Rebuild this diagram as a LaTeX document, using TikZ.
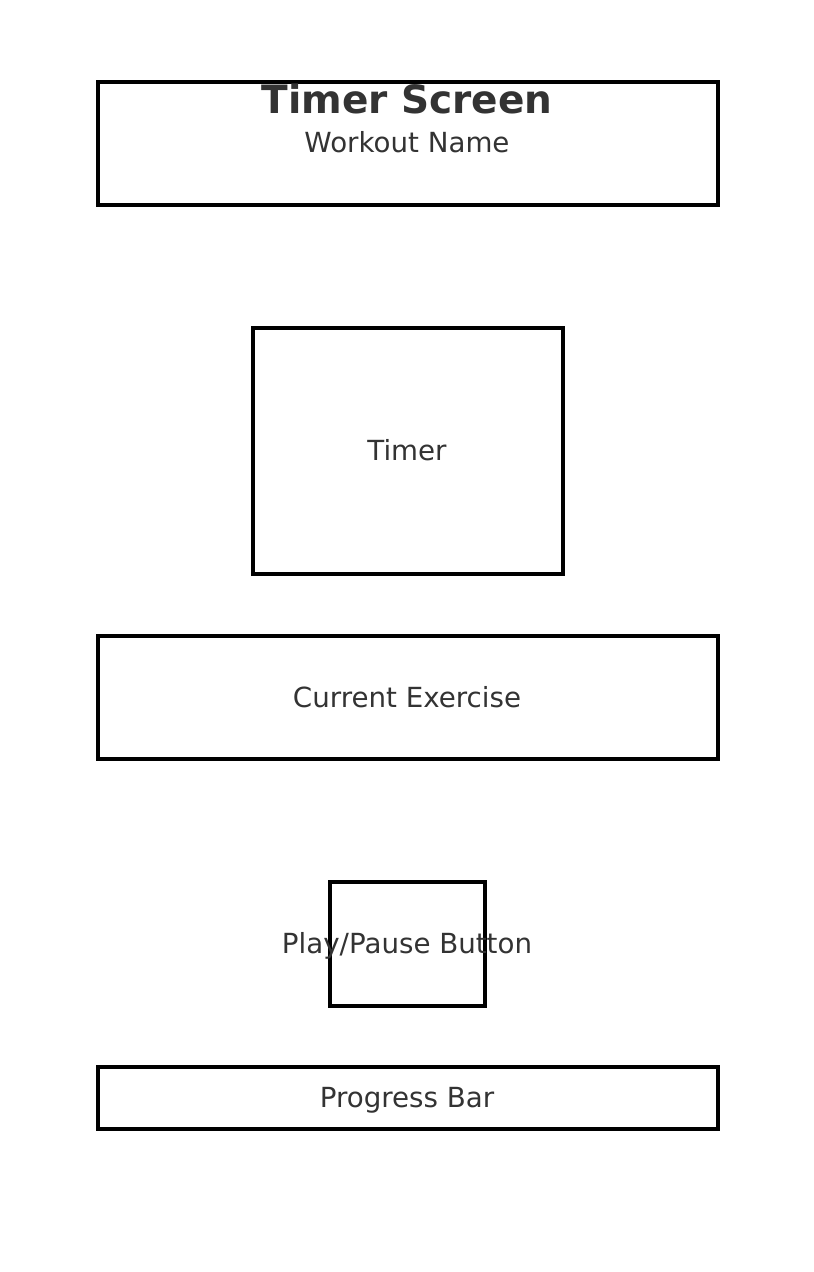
\documentclass[tikz,border=0pt]{standalone}
\usepackage{fontspec}
\setmainfont{DejaVu Sans}
\definecolor{txt}{HTML}{333333}
\begin{document}
\begin{tikzpicture}[x=1pt,y=-1pt,
  panel/.style={draw=black,line width=4pt,fill=none},
  lbl/.style={text=txt,anchor=base,inner sep=0pt,font=\fontsize{27.7}{32}\selectfont},
  ttl/.style={text=txt,anchor=base,inner sep=0pt,font=\fontsize{39}{44}\selectfont\bfseries}]
\useasboundingbox (0,0) rectangle (814,1272);
% screen regions
\draw[panel] (98,82) rectangle (718,205);
\draw[panel] (253,328) rectangle (563,574);
\draw[panel] (98,636) rectangle (718,759);
\draw[panel] (330,882) rectangle (485,1006);
\draw[panel] (98,1067) rectangle (718,1129);
% labels
\node[lbl] (workout) at (407,152) {Workout Name};
\node[lbl] (timer) at (407,460) {Timer};
\node[lbl] (exercise) at (407,707) {Current Exercise};
\node[lbl] (playpause) at (407,953) {Play/Pause Button};
\node[lbl] (progress) at (407,1107) {Progress Bar};
\node[ttl] (title) at (407,113) {Timer Screen};
\end{tikzpicture}
\end{document}
